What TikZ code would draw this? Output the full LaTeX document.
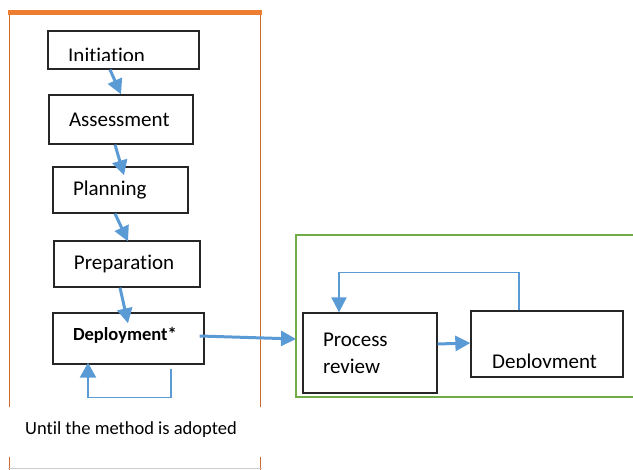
\documentclass[tikz,border=0pt]{standalone}
\usepackage{fontspec}
\setmainfont{Carlito}[Ligatures=NoCommon]
\usetikzlibrary{arrows.meta,positioning}

\definecolor{frameorange}{HTML}{ED7D31}
\definecolor{flowblue}{HTML}{5B9BD5}
\definecolor{cyclegreen}{HTML}{70AD47}

\tikzset{
	box/.style={draw=black!85, line width=1.3pt, inner xsep=20pt, inner ysep=0pt, align=left, font=\fontsize{21}{27}\selectfont},
	flow/.style={draw=flowblue, line width=3pt, -{Triangle[length=15pt,width=15pt]}},
	back/.style={draw=flowblue, line width=1.1pt},
	lbl/.style={inner sep=0pt, font=\fontsize{21}{27}\selectfont},
}

\begin{document}
\begin{tikzpicture}[x=1pt,y=-1pt]
	\useasboundingbox (0,0) rectangle (633,470);
	
	%Frame of the method steps
	\draw [frameorange, line width=5pt] (8,12.5) -- (262,12.5) ;
	\draw [frameorange!85!black, line width=1pt] (9,15) -- (9,407) (9,457) -- (9,470) ;
	\draw [frameorange!85!black, line width=1pt] (260,15) -- (260,407) (260,457) -- (260,470) ;
	\draw [black!20, line width=1pt] (8,469) -- (262,469) ;
	
	%Frame of the review cycle
	\draw [cyclegreen, line width=2.4pt] (633,235) -| (296,397) -- (633,397) ;
	\coordinate (cyclein) at (296,339);
	
	%Steps
	\node [box, text width=111, minimum height=38] (init) at (123.5,50) {};
	\node [box, text width=104, minimum height=49] (assess) at (121,119.5) {Assessment};
	\node [box, text width=95, minimum height=46] (plan) at (120.5,190) {Planning};
	\node [box, text width=106, minimum height=46] (prep) at (127,264) {Preparation};
	\node [box, text width=111, minimum height=51, text depth=10pt, font=\fontsize{18.5}{22}\selectfont\bfseries] (deploy) at (128.5,338.5) {Deployment*};
	\node [box, text width=94, minimum height=80] (proc) at (370,353) {Process\\review};
	\node [box, text width=112, minimum height=66] (depl) at (547,344) {};
	
	% Text Node (cut off by its box)
	\begin{scope}
		\clip (init.north west) rectangle ([yshift=9pt]init.south east);
		\node [lbl, anchor=base west] (initname) at (68,62.5) {Initiation};
	\end{scope}
	% Text Node (cut off by its box)
	\begin{scope}
		\clip (depl.north west) rectangle ([yshift=10pt]depl.south east);
		\node [lbl, anchor=base west] (deplname) at (492,368.5) {Deployment};
	\end{scope}
	
	%Arrows between the steps
	\draw [flow] ([xshift=-13.5pt]init.south) -- (assess.north) ;
	\draw [flow] ([xshift=-6pt]assess.south) -- ([xshift=3.5pt,yshift=-9pt]plan.north) ;
	\draw [flow] ([xshift=-5.5pt]plan.south) -- ([xshift=1pt,yshift=-1pt]prep.north) ;
	\draw [flow] ([xshift=-7pt]prep.south) -- ([xshift=-0.5pt,yshift=-11pt]deploy.north) ;
	\draw [flow] ([xshift=-5pt,yshift=2.5pt]deploy.east) -- (cyclein) ;
	\draw [flow] ([yshift=9pt]proc.east) -- ([yshift=1pt]depl.west) ;
	
	%Loop under Deployment*
	\coordinate (untilturn) at ([xshift=-40.5pt,yshift=-33pt]deploy.south);
	\draw [back] ([xshift=42.5pt,yshift=-4pt]deploy.south) |- (untilturn) ;
	\draw [flow, line width=2.4pt, -{Triangle[length=15pt,width=16pt]}] (untilturn) -- ([xshift=-40.5pt,yshift=2pt]deploy.south) ;
	
	%Loop back to Process review
	\coordinate (reviewtop) at ([xshift=-31pt,yshift=40pt]proc.north);
	\draw [back] ([xshift=-28pt]depl.north) |- (reviewtop) ;
	\draw [flow, line width=2.2pt] (reviewtop) -- ([xshift=-31pt]proc.north) ;
	
	% Text Node
	\node [inner sep=0pt, anchor=base west, font=\fontsize{18.5}{22}\selectfont] (untilnote) at (25,435) {Until the method is adopted};
	
\end{tikzpicture}
\end{document}
